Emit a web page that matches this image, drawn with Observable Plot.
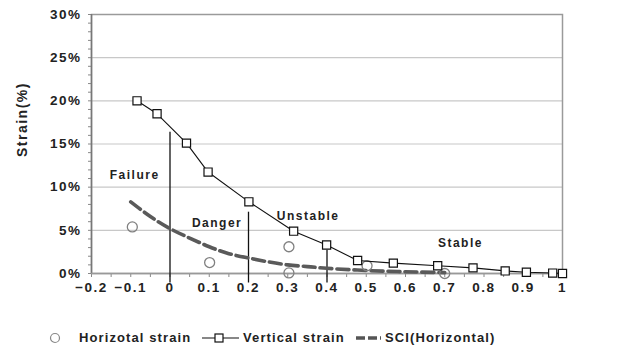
<!DOCTYPE html>
<html>
<head>
<meta charset="utf-8">
<script src="https://cdn.jsdelivr.net/npm/d3@7"></script>
<script src="https://cdn.jsdelivr.net/npm/@observablehq/plot@0.6"></script>
<style>
  html, body { margin: 0; padding: 0; background: #fff; }
  #wrap { position: relative; width: 628px; height: 349px; font-family: "Liberation Sans", Arial, sans-serif; }
  #legend { position: absolute; left: 0; top: 318px; width: 628px; height: 31px; font-weight: bold; font-size: 13px; letter-spacing: 1.1px; color: #222; }
  #legend .item { position: absolute; top: 12px; display: flex; align-items: center; white-space: nowrap; }
  #legend svg { display: block; margin-right: 3px; }
</style>
</head>
<body>
<div id="wrap">
  <div id="chart"></div>
  <div id="legend">
    <div class="item" style="left:49px"><svg width="27" height="14"><circle cx="6" cy="7" r="4.5" fill="none" stroke="#888" stroke-width="1.2"/></svg>Horizotal strain</div>
    <div class="item" style="left:202px"><svg width="38" height="14"><line x1="0" y1="7" x2="37" y2="7" stroke="#111" stroke-width="1.2"/><rect x="13" y="3" width="8" height="8" fill="#fff" stroke="#111" stroke-width="1.2"/></svg>Vertical strain</div>
    <div class="item" style="left:356px"><svg width="26" height="14"><line x1="0" y1="7" x2="25" y2="7" stroke="#555" stroke-width="3.5" stroke-dasharray="9,3"/></svg>SCI(Horizontal)</div>
  </div>
</div>
<script>
// Vertical strain measurements (x = SCI-like index, strain in %)
const verticalX = [-0.084, -0.033, 0.042, 0.097, 0.201, 0.315, 0.399, 0.478, 0.569, 0.682, 0.772, 0.854, 0.908, 0.975, 1.0];
const verticalY = [20.0, 18.5, 15.1, 11.75, 8.3, 4.9, 3.3, 1.5, 1.2, 0.9, 0.65, 0.3, 0.15, 0.05, 0.0];

// Horizontal strain measurements
const horizontalX = [-0.096, 0.101, 0.303, 0.303, 0.502, 0.70];
const horizontalY = [5.4, 1.27, 3.1, 0.07, 0.9, 0.0];

// SCI (horizontal) trend curve
const sciX = [-0.1, -0.05, 0, 0.05, 0.1, 0.15, 0.2, 0.25, 0.3, 0.35, 0.4, 0.5, 0.6, 0.7];
const sciY = [8.3, 6.6, 5.2, 4.1, 3.1, 2.3, 1.8, 1.35, 1.0, 0.8, 0.6, 0.35, 0.2, 0.1];

// Zone boundaries and zone names
const boundaryX = [0, 0.2, 0.4];
const boundaryTop = [16.35, 7.1, 2.7];
const zoneNames = ["Failure", "Danger", "Unstable", "Stable"];
const zoneX = [-0.09, 0.12, 0.352, 0.74];
const zoneY = [11.4, 5.8, 6.7, 3.5];

// Axis ticks
const xTicks = [-0.2, -0.1, 0, 0.1, 0.2, 0.3, 0.4, 0.5, 0.6, 0.7, 0.8, 0.9, 1];
const xMinorTicks = d3.range(-0.2, 1.001, 0.05).map(v => +v.toFixed(2));
const yTicks = [0, 5, 10, 15, 20, 25, 30];
const yMinorTicks = d3.range(0, 31, 1);

const vertical = verticalX.map((x, i) => ({x, y: verticalY[i]}));
const horizontal = horizontalX.map((x, i) => ({x, y: horizontalY[i]}));
const sci = sciX.map((x, i) => ({x, y: sciY[i]}));
const boundaries = boundaryX.map((x, i) => ({x, top: boundaryTop[i]}));
const zones = zoneNames.map((name, i) => ({name, x: zoneX[i], y: zoneY[i]}));

const fmtX = d => d === 0 ? "0" : d === 1 ? "1" : (d < 0 ? "\u2212" : "") + Math.abs(d).toFixed(1);

const chart = Plot.plot({
  width: 628,
  height: 318,
  marginLeft: 91,
  marginRight: 66,
  marginTop: 14,
  marginBottom: 45,
  style: {fontFamily: "'Liberation Sans', Arial, sans-serif", fontWeight: "bold", fontSize: "13px", letterSpacing: "1.5px", color: "#222", background: "#fff"},
  x: {domain: [-0.2, 1]},
  y: {domain: [0, 30]},
  marks: [
    Plot.gridY(yTicks, {stroke: "#c8c8c8", strokeOpacity: 1, strokeWidth: 1.2}),
    Plot.frame({stroke: "#9a9a9a", strokeWidth: 1.5}),
    Plot.axisY(yMinorTicks, {tickSize: 3, stroke: "#888", text: null, label: null}),
    Plot.axisY(yTicks, {tickSize: 0, tickPadding: 10, tickFormat: d => d + "%", label: null, fontSize: 13.5, fill: "#222"}),
    Plot.axisX(xMinorTicks, {tickSize: 4, stroke: "#888", text: null, label: null}),
    Plot.axisX(xTicks, {tickSize: 0, tickPadding: 9, tickFormat: fmtX, label: null, fontSize: 13.5, fill: "#222"}),
    Plot.ruleX([-0.2], {stroke: "#777", strokeWidth: 1.5}),
    Plot.ruleY([0], {stroke: "#999", strokeWidth: 1.5}),
    Plot.text(["Strain(%)"], {frameAnchor: "left", dx: -69, dy: 13, rotate: -90, fontSize: 14, fill: "#222"}),
    Plot.ruleX(boundaries, {x: "x", y1: -1.1, y2: "top", stroke: "#111", strokeWidth: 1.3}),
    Plot.text(zones, {x: "x", y: "y", text: "name", fontSize: 12, fill: "#222"}),
    Plot.line(sci, {x: "x", y: "y", curve: "natural", stroke: "#5a5a5a", strokeWidth: 3.6, strokeDasharray: "12,5"}),
    Plot.dot(horizontal, {x: "x", y: "y", r: 5, stroke: "#808080", strokeWidth: 1.3, fill: "none"}),
    Plot.line(vertical, {x: "x", y: "y", stroke: "#111", strokeWidth: 1.1}),
    Plot.dot(vertical, {x: "x", y: "y", symbol: "square", r: 4.6, stroke: "#111", strokeWidth: 1.2, fill: "#fff"})
  ]
});
document.getElementById("chart").appendChild(chart);
</script>
</body>
</html>
